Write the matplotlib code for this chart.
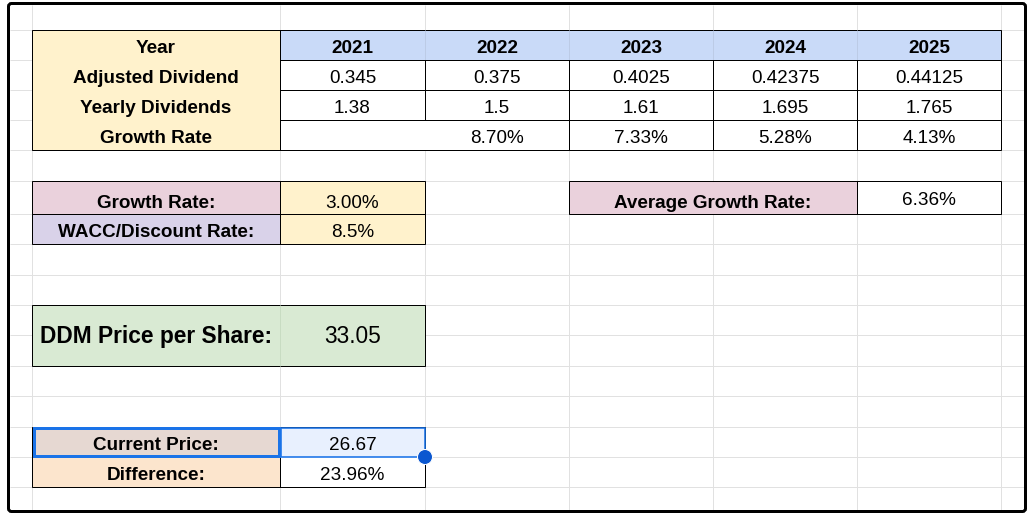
"""Spreadsheet view of a dividend discount model (DDM) sheet."""

import matplotlib.pyplot as plt
from matplotlib.patches import Rectangle, Circle, FancyBboxPatch

plt.rcParams["font.family"] = ["Liberation Sans", "DejaVu Sans"]

# ---- data ----
YEARS = [2021, 2022, 2023, 2024, 2025]
ADJUSTED_DIVIDEND = [0.345, 0.375, 0.4025, 0.42375, 0.44125]
YEARLY_DIVIDENDS = [1.38, 1.5, 1.61, 1.695, 1.765]
GROWTH_RATE = [None, 8.70, 7.33, 5.28, 4.13]       # percent
ROW_LABELS = ["Year", "Adjusted Dividend", "Yearly Dividends", "Growth Rate"]

ASSUMED_GROWTH = 3.00      # percent
WACC = 8.5                 # percent
AVERAGE_GROWTH = 6.36      # percent
DDM_PRICE = 33.05
CURRENT_PRICE = 26.67
DIFFERENCE = 23.96         # percent

# ---- sheet layout (pixels) ----
W, H = 1034, 516
COL_EDGES = [32, 280, 425, 569, 713, 857, 1001]
ROW_EDGES = [30, 60, 90, 120, 150, 181, 214, 244, 275, 305, 335, 366,
             396, 427, 457, 487]
FS = 13.6
FS_BIG = 16.4
PX = 0.72  # one pixel in points

YELLOW = "#fff2cc"
BLUE = "#c9daf8"
PINK = "#ead1dc"
PURPLE = "#d9d2e9"
GREEN = "#d9ead3"
TAUPE = "#e6d8d2"
ORANGE = "#fce5cd"
SEL_FILL = "#e8f0fe"
SEL_BLUE = "#1a73e8"
GRID = "#e1e1e1"


def cell(ax, c0, c1, r0, r1, fill=None, edge=None, lw=1.0, z=2):
    x0, x1 = COL_EDGES[c0], COL_EDGES[c1]
    y0, y1 = ROW_EDGES[r0], ROW_EDGES[r1]
    ax.add_patch(Rectangle((x0, y0), x1 - x0, y1 - y0,
                           facecolor=fill if fill else "none",
                           edgecolor=edge if edge else "none",
                           linewidth=lw * PX, zorder=z))


def hline(ax, y, x0, x1, color="black", lw=1.0, z=4):
    ax.plot([x0, x1], [y, y], color=color, linewidth=lw * PX, zorder=z,
            solid_capstyle="butt")


def vline(ax, x, y0, y1, color="black", lw=1.0, z=4):
    ax.plot([x, x], [y0, y1], color=color, linewidth=lw * PX, zorder=z,
            solid_capstyle="butt")


def put(ax, c0, c1, r1, s, bold=False, size=FS, dy=7.0):
    xc = (COL_EDGES[c0] + COL_EDGES[c1]) / 2
    ax.text(xc, ROW_EDGES[r1] - dy, s, ha="center", va="baseline",
            fontsize=size, fontweight="bold" if bold else "normal",
            color="black", zorder=6)


def main():
    fig = plt.figure(figsize=(W / 100, H / 100), dpi=100)
    ax = fig.add_axes([0, 0, 1, 1])
    ax.set_xlim(0, W)
    ax.set_ylim(H, 0)
    ax.axis("off")

    # light sheet grid
    for x in [COL_EDGES[0]] + COL_EDGES[1:]:
        vline(ax, x, 5, 510, color=GRID, z=1)
    for y in ROW_EDGES:
        hline(ax, y, 10, 1024, color=GRID, z=1)

    # ---- top table ----
    cell(ax, 0, 1, 0, 4, fill=YELLOW)
    cell(ax, 1, 6, 0, 1, fill=BLUE)
    cell(ax, 1, 6, 1, 4, fill="white")
    for c in range(2, 6):
        vline(ax, COL_EDGES[c], ROW_EDGES[0], ROW_EDGES[1], color="#bccbe6", z=3)
    cell(ax, 0, 6, 0, 4, edge="black")
    vline(ax, COL_EDGES[1], ROW_EDGES[0], ROW_EDGES[4])
    for r in range(1, 4):
        hline(ax, ROW_EDGES[r], COL_EDGES[1], COL_EDGES[6])
    for c in range(2, 6):
        bottom = ROW_EDGES[3] if c == 2 else ROW_EDGES[4]
        vline(ax, COL_EDGES[c], ROW_EDGES[1], bottom)

    for r, label in enumerate(ROW_LABELS):
        put(ax, 0, 1, r + 1, label, bold=True)
    for i, yr in enumerate(YEARS):
        put(ax, i + 1, i + 2, 1, str(yr), bold=True)
        put(ax, i + 1, i + 2, 2, str(ADJUSTED_DIVIDEND[i]))
        put(ax, i + 1, i + 2, 3, str(YEARLY_DIVIDENDS[i]))
        if GROWTH_RATE[i] is not None:
            put(ax, i + 1, i + 2, 4, f"{GROWTH_RATE[i]:.2f}%")

    # ---- growth / WACC inputs ----
    cell(ax, 0, 1, 5, 6, fill=PINK)
    cell(ax, 0, 1, 6, 7, fill=PURPLE)
    cell(ax, 1, 2, 5, 7, fill=YELLOW)
    cell(ax, 0, 2, 5, 7, edge="black")
    vline(ax, COL_EDGES[1], ROW_EDGES[5], ROW_EDGES[7])
    hline(ax, ROW_EDGES[6], COL_EDGES[0], COL_EDGES[2])
    put(ax, 0, 1, 6, "Growth Rate:", bold=True, dy=6)
    put(ax, 1, 2, 6, f"{ASSUMED_GROWTH:.2f}%", dy=6)
    put(ax, 0, 1, 7, "WACC/Discount Rate:", bold=True)
    put(ax, 1, 2, 7, f"{WACC:.1f}%")

    # ---- average growth ----
    cell(ax, 3, 5, 5, 6, fill=PINK)
    cell(ax, 5, 6, 5, 6, fill="white")
    cell(ax, 3, 6, 5, 6, edge="black")
    vline(ax, COL_EDGES[5], ROW_EDGES[5], ROW_EDGES[6])
    put(ax, 3, 5, 6, "Average Growth Rate:", bold=True, dy=6)
    put(ax, 5, 6, 6, f"{AVERAGE_GROWTH:.2f}%", dy=9)

    # ---- DDM price ----
    cell(ax, 0, 2, 9, 11, fill=GREEN)
    vline(ax, COL_EDGES[1], ROW_EDGES[9], ROW_EDGES[11], color="#c8dcc2", z=3)
    cell(ax, 0, 2, 9, 11, edge="black")
    put(ax, 0, 1, 11, "DDM Price per Share:", bold=True, size=FS_BIG, dy=23)
    put(ax, 1, 2, 11, f"{DDM_PRICE:.2f}", size=FS_BIG, dy=23)

    # ---- current price / difference ----
    cell(ax, 0, 1, 13, 14, fill=TAUPE)
    cell(ax, 1, 2, 13, 14, fill=SEL_FILL)
    cell(ax, 0, 1, 14, 15, fill=ORANGE)
    cell(ax, 1, 2, 14, 15, fill="white")
    cell(ax, 0, 2, 13, 15, edge="black")
    vline(ax, COL_EDGES[1], ROW_EDGES[14], ROW_EDGES[15])
    put(ax, 0, 1, 14, "Current Price:", bold=True)
    put(ax, 1, 2, 14, f"{CURRENT_PRICE:.2f}")
    put(ax, 0, 1, 15, "Difference:", bold=True)
    put(ax, 1, 2, 15, f"{DIFFERENCE:.2f}%")

    # selection highlight
    x0, x1, x2 = COL_EDGES[0], COL_EDGES[1], COL_EDGES[2]
    y0, y1 = ROW_EDGES[13], ROW_EDGES[14]
    ax.add_patch(Rectangle((x1 + 1, y0 + 0.5), x2 - x1 - 1, y1 - y0 - 1,
                           facecolor="none", edgecolor=SEL_BLUE,
                           linewidth=1.6 * PX, zorder=7))
    ax.add_patch(Rectangle((x0 + 1.5, y0 + 1), x1 - x0 - 3, y1 - y0 - 2,
                           facecolor="none", edgecolor=SEL_BLUE,
                           linewidth=3 * PX, zorder=7))
    ax.add_patch(Circle((x2, y1), 7.5, facecolor="#0b57d0",
                        edgecolor="white", linewidth=1 * PX, zorder=8))

    # outer screenshot frame
    ax.add_patch(FancyBboxPatch((8.5, 3.5), 1017, 508,
                                boxstyle="round,pad=0,rounding_size=3",
                                facecolor="none", edgecolor="black",
                                linewidth=3 * PX, zorder=9))

    fig.savefig("out.png", dpi=100)
    plt.close(fig)


if __name__ == "__main__":
    main()
